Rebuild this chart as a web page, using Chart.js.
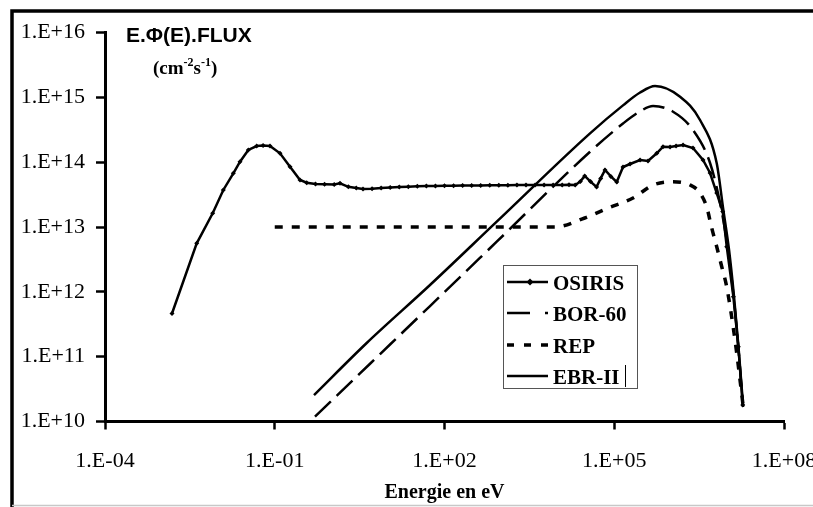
<!DOCTYPE html>
<html>
<head>
<meta charset="utf-8">
<script src="https://cdn.jsdelivr.net/npm/chart.js@4.4.0/dist/chart.umd.min.js"></script>
<style>
  html, body { margin: 0; padding: 0; background: #fff; overflow: hidden; }
  canvas { display: block; }
</style>
</head>
<body>
<canvas id="myChart" width="813" height="507"></canvas>
<script>
const seriesNames = ["OSIRIS", "BOR-60", "REP", "EBR-II"];

// values, as log10(E in eV) and log10(flux)
const osirisLogE = [-2.816, -2.379, -2.097, -1.909, -1.732, -1.614, -1.467, -1.319, -1.207, -1.084,
  -0.907, -0.730, -0.554, -0.435, -0.28, -0.12, 0.05, 0.153, 0.30, 0.44,
  0.56, 0.72, 0.88, 1.04, 1.20, 1.36, 1.52, 1.68, 1.84, 2.00,
  2.16, 2.32, 2.48, 2.64, 2.80, 2.96, 3.12, 3.28, 3.44, 3.60,
  3.76, 3.92, 4.08, 4.20, 4.31, 4.40, 4.478, 4.58, 4.687, 4.76,
  4.837, 4.94, 5.044, 5.155, 5.279, 5.456, 5.597, 5.751, 5.862, 5.986,
  6.092, 6.216, 6.392, 6.569, 6.693, 6.811, 6.917, 6.988, 7.105, 7.193, 7.271];
const osirisLogFlux = [11.666, 12.748, 13.211, 13.571, 13.828, 14.007, 14.188, 14.249, 14.257, 14.249,
  14.137, 13.930, 13.725, 13.683, 13.665, 13.66, 13.655, 13.675, 13.62, 13.60,
  13.586, 13.59, 13.60, 13.61, 13.617, 13.622, 13.627, 13.631, 13.634, 13.636,
  13.638, 13.64, 13.641, 13.642, 13.643, 13.644, 13.645, 13.646, 13.646, 13.647,
  13.648, 13.648, 13.648, 13.65, 13.648, 13.70, 13.787, 13.70, 13.617, 13.75,
  13.879, 13.78, 13.694, 13.925, 13.972, 14.033, 14.018, 14.137, 14.238, 14.234,
  14.249, 14.265, 14.218, 14.033, 13.833, 13.524, 13.239, 12.696, 11.925, 11.153, 10.254];

const bor60LogE = [-0.289, 0.684, 1.744, 2.923, 4.572, 5.160, 5.45, 5.686, 6.039, 6.392, 6.693, 6.870, 7.011, 7.117, 7.196, 7.276];
const bor60LogFlux = [10.074, 10.891, 11.781, 12.773, 14.161, 14.60, 14.78, 14.866, 14.778, 14.496, 13.987, 13.370, 12.645, 11.874, 11.103, 10.224];

const repLogE = [-1.0, 0.0, 1.0, 2.0, 3.0, 3.95, 4.478, 4.890, 5.332, 5.686, 6.039, 6.339, 6.516, 6.634, 6.723, 6.811, 6.900, 6.988, 7.134, 7.276];
const repLogFlux = [13.0, 13.0, 13.0, 13.0, 13.0, 13.0, 13.139, 13.293, 13.447, 13.648, 13.699, 13.648, 13.524, 13.308, 12.984, 12.696, 12.387, 12.074, 11.257, 10.254];

const ebr2LogE = [-0.306, 0.625, 1.744, 2.923, 4.572, 5.160, 5.45, 5.721, 6.163, 6.516, 6.811, 6.928, 7.029, 7.117, 7.196, 7.276];
const ebr2LogFlux = [10.408, 11.211, 12.105, 13.082, 14.445, 14.88, 15.07, 15.175, 15.010, 14.650, 13.982, 13.262, 12.645, 11.925, 11.149, 10.254];

const xTicks = [1e-4, 1e-1, 1e2, 1e5, 1e8];
const xTickLabels = ["1.E-04", "1.E-01", "1.E+02", "1.E+05", "1.E+08"];
const yTicks = [1e10, 1e11, 1e12, 1e13, 1e14, 1e15, 1e16];
const yTickLabels = ["1.E+10", "1.E+11", "1.E+12", "1.E+13", "1.E+14", "1.E+15", "1.E+16"];

function toPoints(logE, logF) {
  return logE.map((e, i) => ({ x: Math.pow(10, e), y: Math.pow(10, logF[i]) }));
}

const SERIF = "'Liberation Serif', 'Times New Roman', serif";
const SANS = "'Liberation Sans', Arial, sans-serif";

// frame, inner title, unit and the boxed legend
const decorations = {
  id: "decorations",
  beforeDraw(chart) {
    const ctx = chart.ctx;
    ctx.save();
    ctx.fillStyle = "#fff";
    ctx.fillRect(0, 0, chart.width, chart.height);
    ctx.strokeStyle = "#000";
    ctx.lineWidth = 3.5;
    ctx.beginPath();
    ctx.moveTo(12, 507);
    ctx.lineTo(12, 11);
    ctx.lineTo(813, 11);
    ctx.stroke();
    ctx.strokeStyle = "#c8c8c8";
    ctx.lineWidth = 1.5;
    ctx.beginPath();
    ctx.moveTo(12, 505.5);
    ctx.lineTo(813, 505.5);
    ctx.stroke();
    ctx.restore();
  },
  afterDraw(chart) {
    const ctx = chart.ctx;
    ctx.save();
    ctx.fillStyle = "#000";
    ctx.textBaseline = "alphabetic";
    ctx.font = "bold 21px " + SANS;
    ctx.fillText("E.\u03A6(E).FLUX", 126, 42);

    // (cm-2 s-1)
    let x = 153;
    const base = 74;
    const parts = [["(cm", false], ["-2", true], ["s", false], ["-1", true], [")", false]];
    parts.forEach(([t, sup]) => {
      ctx.font = (sup ? "bold 12px " : "bold 19px ") + SERIF;
      ctx.fillText(t, x, sup ? base - 8 : base);
      x += ctx.measureText(t).width;
    });

    // legend
    const bx = 503.5, by = 265.5, bw = 134, bh = 123;
    ctx.fillStyle = "#fff";
    ctx.fillRect(bx, by, bw, bh);
    ctx.strokeStyle = "#555";
    ctx.lineWidth = 1;
    ctx.strokeRect(bx, by, bw, bh);
    const rows = [282, 313, 345, 376];
    const sampleDash = [[], [23, 15], [7, 10], []];
    chart.data.datasets.forEach((ds, i) => {
      const y = rows[i];
      ctx.strokeStyle = "#000";
      ctx.lineWidth = ds.borderWidth;
      ctx.setLineDash(sampleDash[i]);
      ctx.beginPath();
      ctx.moveTo(507, y);
      ctx.lineTo(548, y);
      ctx.stroke();
      ctx.setLineDash([]);
      if (ds.pointRadius > 0) {
        ctx.fillStyle = "#000";
        ctx.beginPath();
        ctx.moveTo(530, y - 3.5);
        ctx.lineTo(533.5, y);
        ctx.lineTo(530, y + 3.5);
        ctx.lineTo(526.5, y);
        ctx.closePath();
        ctx.fill();
      }
      ctx.fillStyle = "#000";
      ctx.font = "bold 21px " + SERIF;
      ctx.fillText(ds.label, 553, y + 7.5);
    });
    // stray text cursor after EBR-II, as in the source picture
    ctx.strokeStyle = "#000";
    ctx.lineWidth = 1;
    ctx.beginPath();
    ctx.moveTo(625.5, 365);
    ctx.lineTo(625.5, 387);
    ctx.stroke();
    ctx.restore();
  }
};

const ctx = document.getElementById("myChart").getContext("2d");

const data = {
  datasets: [
    {
      label: seriesNames[0],
      data: toPoints(osirisLogE, osirisLogFlux),
      borderColor: "#000",
      backgroundColor: "#000",
      borderWidth: 2.5,
      pointStyle: "rectRot",
      pointRadius: 2.5,
      pointBorderWidth: 0,
      tension: 0,
    },
    {
      label: seriesNames[1],
      data: toPoints(bor60LogE, bor60LogFlux),
      borderColor: "#000",
      borderWidth: 2.5,
      borderDash: [22, 8],
      pointRadius: 0,
      cubicInterpolationMode: "monotone",
    },
    {
      label: seriesNames[2],
      data: toPoints(repLogE, repLogFlux),
      borderColor: "#000",
      borderWidth: 3.5,
      borderDash: [8, 9],
      pointRadius: 0,
      cubicInterpolationMode: "monotone",
    },
    {
      label: seriesNames[3],
      data: toPoints(ebr2LogE, ebr2LogFlux),
      borderColor: "#000",
      borderWidth: 2.5,
      pointRadius: 0,
      cubicInterpolationMode: "monotone",
    },
  ],
};

const config = {
  type: "line",
  data: data,
  plugins: [decorations],
  options: {
    responsive: false,
    animation: false,
    devicePixelRatio: 1,
    layout: {
      padding: { left: 0, right: 29, top: 32.5, bottom: 0 },
    },
    plugins: {
      legend: { display: false },
      tooltip: { enabled: false },
      title: { display: false },
    },
    scales: {
      x: {
        type: "logarithmic",
        min: 1e-4,
        max: 1e8,
        afterBuildTicks: (s) => { s.ticks = xTicks.map((v) => ({ value: v })); },
        afterFit: (s) => { s.height = 85.5; s.paddingLeft = 0; s.paddingRight = 0; },
        border: { display: true, color: "#000", width: 3 },
        grid: { display: true, drawOnChartArea: false, drawTicks: true, tickLength: 8, tickColor: "#000", tickWidth: 2.5 },
        ticks: {
          autoSkip: false,
          maxRotation: 0,
          padding: 19,
          color: "#000",
          font: { family: SERIF, size: 22 },
          callback: (v, i) => xTickLabels[i],
        },
        title: {
          display: true,
          text: "Energie en eV",
          color: "#000",
          font: { family: SERIF, size: 20, weight: "bold" },
          padding: { top: 0, bottom: 2 },
        },
      },
      y: {
        type: "logarithmic",
        min: 1e10,
        max: 1e16,
        afterBuildTicks: (s) => { s.ticks = yTicks.map((v) => ({ value: v })); },
        afterFit: (s) => { s.width = 105; s.paddingTop = 0; s.paddingBottom = 0; },
        border: { display: true, color: "#000", width: 3 },
        grid: { display: true, drawOnChartArea: false, drawTicks: true, tickLength: 9, tickColor: "#000", tickWidth: 2.5 },
        ticks: {
          autoSkip: false,
          padding: 11,
          color: "#000",
          font: { family: SERIF, size: 22 },
          callback: (v, i) => yTickLabels[i],
        },
      },
    },
  },
};

const myChart = new Chart(ctx, config);
</script>
</body>
</html>
